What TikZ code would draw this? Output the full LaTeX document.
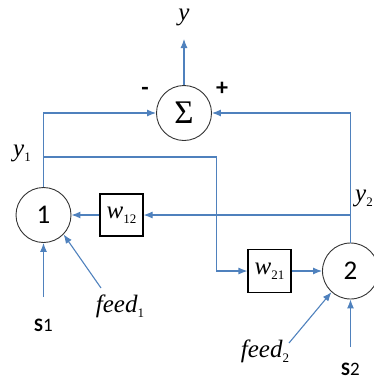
\documentclass[tikz,border=0pt]{standalone}
\usepackage{fontspec}
\setmainfont{Liberation Serif}
\newfontfamily\carfont{Carlito}
\usetikzlibrary{arrows.meta}
\definecolor{lineblue}{RGB}{79,129,189}
\tikzset{
  conn/.style={draw=lineblue, line width=1.1pt},
  arr/.style={conn, -{Latex[length=9pt,width=7pt]}},
  neuron/.style={circle, draw=black!80, line width=0.9pt, minimum size=55pt, inner sep=0pt, font=\carfont\fontsize{27}{27}\selectfont},
  weight/.style={rectangle, draw=black, line width=1.1pt, minimum width=43pt, minimum height=42pt, inner sep=0pt, font=\fontsize{25}{25}\selectfont\itshape},
  lbl/.style={inner sep=0pt, font=\fontsize{25}{25}\selectfont\itshape},
  slbl/.style={inner sep=0pt, font=\carfont\fontsize{19}{19}\selectfont},
  sign/.style={inner sep=0pt, font=\carfont\bfseries\fontsize{24}{24}\selectfont}
}
\newcommand{\lsub}[1]{\raisebox{-5pt}{\upshape\fontsize{13}{13}\selectfont #1}}
\begin{document}
\begin{tikzpicture}[x=1pt,y=-1pt]
\useasboundingbox (0,0) rectangle (374,381);
% nodes
\node[neuron, font=\fontsize{33}{33}\selectfont] (sum) at (184,113) {Σ};
\node[neuron] (n1) at (43.5,215) {1};
\node[neuron, minimum size=56pt] (n2) at (350.5,271) {2};
\node[weight] (w12) at (121.5,215) {w\lsub{12}};
\node[weight, minimum height=43pt] (w21) at (269.5,271) {w\lsub{21}};
% labels
\node[lbl] (ylab) at (184,17) {y};
\node[lbl] (y1) at (22,153) {y\lsub{1}};
\node[lbl, anchor=west] (y2) at (355,198) {y\lsub{2}};
\node[lbl] (f1) at (120,306) {feed\lsub{1}};
\node[lbl] (f2) at (265,351) {feed\lsub{2}};
\node[slbl] (s1) at (43.5,325) {{\bfseries S}1};
\node[slbl] (s2) at (350.5,369) {{\bfseries S}2};
\node[sign] (minus) at (145,91) {-};
\node[sign] (plus) at (222,89) {+};
% free ends
\coordinate (yout) at (184,39);
\coordinate (b1) at (43.5,157);
\coordinate (b2) at (350.5,215);
\coordinate (s1s) at (43.5,297);
\coordinate (s2s) at (350.5,347);
\coordinate (f1s) at (101,288);
\coordinate (f2s) at (289,343);
% connectors
\draw[arr] (sum.north) -- (yout);
\draw[arr] (n1.north) |- (sum.west);
\draw[arr] (n2.north) |- (sum.east);
\draw[arr] (b1) -| ([xshift=-31pt]w21.west) -- (w21.west);
\draw[arr] (w21.east) -- (n2.west);
\draw[arr] (b2) -- (w12.east);
\draw[arr] (w12.west) -- (n1.east);
\draw[arr] (s1s) -- (n1.south);
\draw[arr] (s2s) -- (n2.south);
\draw[arr] (f1s) -- (n1.-44);
\draw[arr] (f2s) -- (n2.-132);
\end{tikzpicture}
\end{document}
